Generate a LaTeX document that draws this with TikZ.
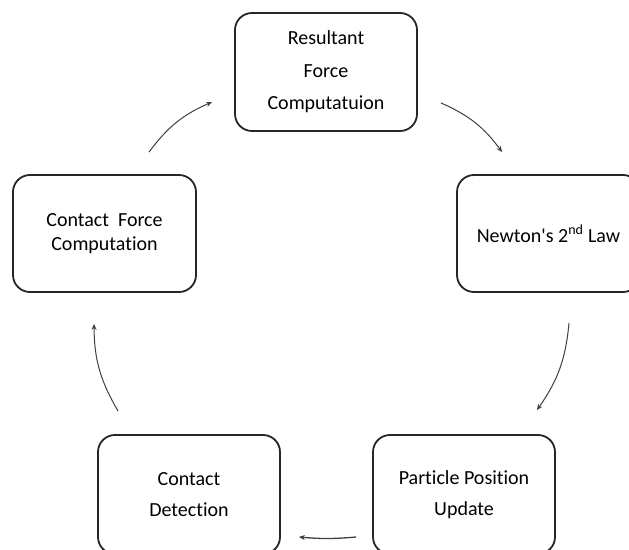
\documentclass[tikz,border=0pt]{standalone}
\usepackage{fontspec}
\newfontfamily\calfont{Carlito}[Ligatures=NoCommon]
\usetikzlibrary{arrows.meta}
\begin{document}
\begin{tikzpicture}[x=1pt,y=1pt,
  stepbox/.style={draw=black!85, line width=1.8pt, rounded corners=17pt, align=center,
    inner sep=0pt, font=\calfont\fontsize{20}{25}\selectfont},
  arr/.style={draw=black!75, line width=1pt, -{Stealth[length=6pt,width=5pt]}}]
\useasboundingbox (0,0) rectangle (629,549);
\clip (0,0) rectangle (629,549);
\node[stepbox, minimum width=182pt, minimum height=118pt, font=\calfont\fontsize{20}{32.5}\selectfont] (T) at (326,477) {Resultant\\Force\\Computatuion};
\node[stepbox, minimum width=183pt, minimum height=117pt] (N) at (548.5,315.5) {Newton's 2\textsuperscript{nd} Law};
\node[stepbox, minimum width=183pt, minimum height=117pt, font=\calfont\fontsize{20}{24}\selectfont] (C) at (104.5,315.5) {Contact\ \ Force\\Computation};
\node[stepbox, minimum width=182pt, minimum height=119pt, font=\calfont\fontsize{20}{31}\selectfont] (D) at (189,54.5) {Contact\\Detection};
\node[stepbox, minimum width=182pt, minimum height=119pt, font=\calfont\fontsize{20}{31}\selectfont] (P) at (464,54.5) {Particle Position\\Update};
\draw[arr] ([shift={(23,29)}]T.south east) to[bend left=15] ([shift={(46,22)}]N.north west);
\draw[arr] ([shift={(20.5,-30)}]N.south) to[bend left=15] ([shift={(-19,24)}]P.north east);
\draw[arr, line width=1.3pt] ([shift={(-16,-42.5)}]P.west) to[bend left=5] ([shift={(18,-42.5)}]D.east);
\draw[arr] ([shift={(21,23)}]D.north west) to[bend left=15] ([shift={(-10.5,-31)}]C.south);
\draw[arr] ([shift={(44.5,22)}]C.north) to[bend left=15] ([shift={(-22,-30)}]T.west);
\end{tikzpicture}
\end{document}
